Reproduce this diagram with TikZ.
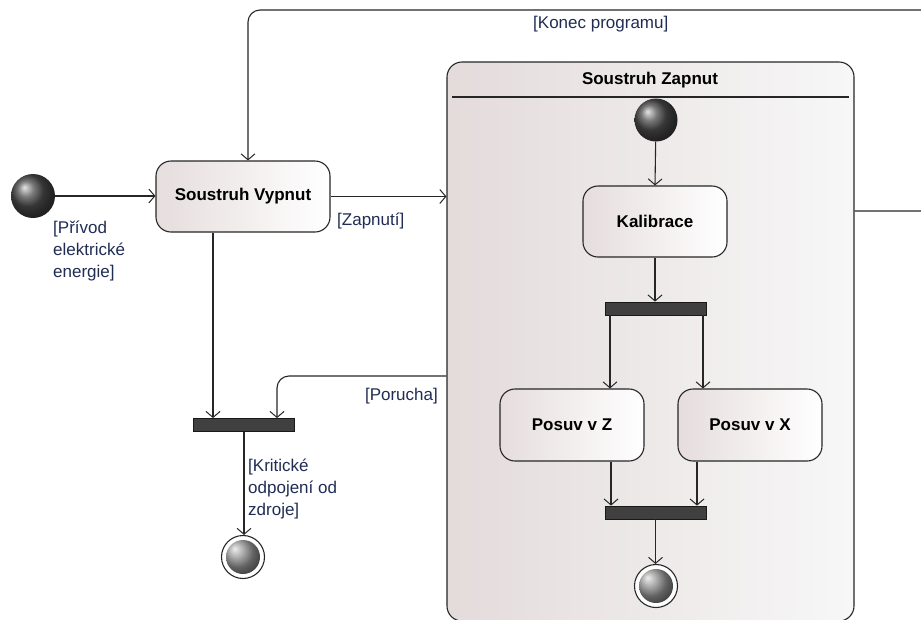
\documentclass[tikz,border=0pt]{standalone}
\usepackage{fontspec}
\setmainfont{Liberation Sans}
\usetikzlibrary{arrows.meta,calc}
\definecolor{guard}{RGB}{32,44,84}
\definecolor{boxl}{RGB}{230,221,221}
\definecolor{contl}{RGB}{228,219,219}
\begin{document}
\begin{tikzpicture}[x=1pt,y=-1pt,
  every node/.style={font=\fontsize{17}{22}\selectfont},
  conn/.style={line width=1.1pt,draw=black!85},
  arr/.style={conn,-{Straight Barb[length=6pt,width=14pt,line width=1pt]}},
  actbox/.style={draw=black!85,line width=1.1pt,rounded corners=15pt,left color=boxl,right color=white,
     minimum width=144pt,minimum height=71pt,inner sep=0pt,font=\fontsize{17}{22}\selectfont\bfseries},
  bar/.style={draw=black!90,fill=black!75,line width=0.8pt,minimum width=101pt,minimum height=13pt,inner sep=0pt},
  initnode/.style={circle,shading=ball,ball color=black!70,minimum size=44pt,inner sep=0pt},
  finnode/.style={circle,draw=black!85,line width=1.1pt,fill=white,minimum size=43pt,inner sep=0pt,
     path picture={\shade[ball color=black!45] (path picture bounding box.center) circle (17pt);}},
  guardlbl/.style={text=guard,inner sep=0pt,align=left},
]
\useasboundingbox (0,0) rectangle (921,619);
\clip (0,0) rectangle (921,619);

% container
\node[draw=black!85,line width=1.1pt,rounded corners=15pt,left color=contl,right color=white!97!black,
      minimum width=407pt,minimum height=559pt,inner sep=0pt] (zap) at (650.5,341.5) {};
\node[font=\fontsize{17}{22}\selectfont\bfseries] (ztitle) at (650,80) {Soustruh Zapnut};
\draw[line width=1.1pt,black!85] (452,97) -- (849,97);

% outer nodes
\node[initnode] (init1) at (33,196) {};
\node[actbox,minimum width=174pt] (vyp) at (243,196.5) {Soustruh Vypnut};
\node[bar] (bar2) at (243.5,425) {};
\node[finnode] (fin1) at (243,557) {};

% inner nodes
\node[initnode,minimum size=43pt] (init2) at (656,120) {};
\node[actbox] (kal) at (655,221.5) {Kalibrace};
\node[bar] (fork1) at (655.5,308.5) {};
\node[actbox,minimum height=72pt] (posZ) at (572,425) {Posuv v Z};
\node[actbox,minimum height=72pt] (posX) at (750,425) {Posuv v X};
\node[bar] (join1) at (655.5,512.5) {};
\node[finnode] (fin2) at (656,586) {};

% coordinates for connector bends
\coordinate (kp1) at (940,211);
\coordinate (kp2) at (940,10);
\coordinate (kp3) at (248,10);
\coordinate (pp1) at (277,376);

% connectors
\draw[arr] (init1.east) -- (vyp.west |- init1.east);
\draw[arr] (vyp.east) -- (vyp.east -| zap.west);
\draw[arr,rounded corners=12pt] (zap.east |- kp1) -- (kp1) -- (kp2) -- (kp3) -- (kp3 |- vyp.north);
\draw[arr] (213,232) coordinate (v1) (vyp.south -| v1) -- (bar2.north -| v1);
\draw[arr,rounded corners=12pt] (zap.west |- pp1) -- (pp1) -- (pp1 |- bar2.north);
\draw[arr] (bar2.south -| 244,0) -- (fin1.north -| 244,0);

\draw[arr] (init2) -- (kal.north);
\draw[arr] (kal.south) -- (kal.south |- fork1.north);
\draw[arr] (fork1.south -| 610,0) -- (posZ.north -| 610,0);
\draw[arr] (fork1.south -| 703,0) -- (posX.north -| 703,0);
\draw[arr] (posZ.south -| 611,0) -- (join1.north -| 611,0);
\draw[arr] (posX.south -| 697,0) -- (join1.north -| 697,0);
\draw[arr] (join1.south) -- (join1.south |- fin2.north);

% guard labels
\node[guardlbl,anchor=north west] (l1) at (53,221) {[Přívod\\elektrické\\energie]};
\node[guardlbl,anchor=base west] (l2) at (337,225) {[Zapnutí]};
\node[guardlbl,anchor=base west] (l3) at (533,28) {[Konec programu]};
\node[guardlbl,anchor=base east] (l4) at (438,400) {[Porucha]};
\node[guardlbl,anchor=north west] (l5) at (248,459) {[Kritické\\odpojení od\\zdroje]};
\end{tikzpicture}
\end{document}
